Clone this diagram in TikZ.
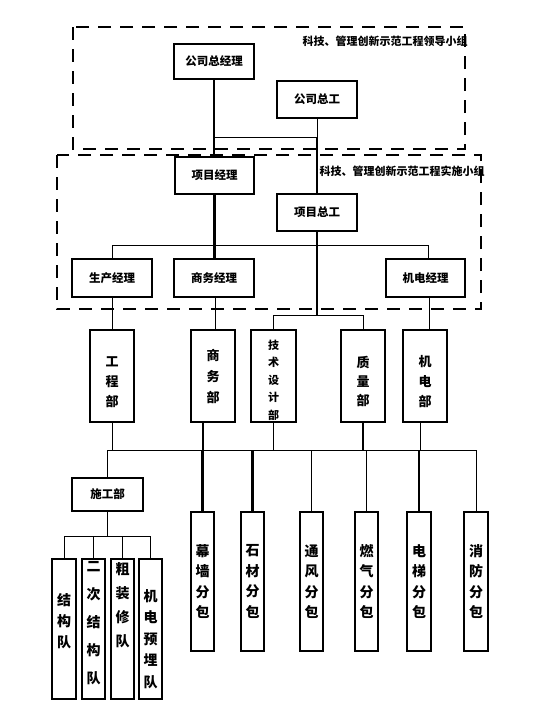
\documentclass[tikz,border=0pt]{standalone}
\usepackage{fontspec}
\setmainfont{Noto Sans CJK SC}
\begin{document}
\begin{tikzpicture}[x=1pt,y=-1pt,
  box/.style={draw, line width=1.3pt, inner sep=0pt, font=\bfseries\fontsize{11.5}{12}\selectfont},
  vbox/.style={draw, line width=1.3pt, inner sep=0pt, align=center, font=\bfseries\fontsize{14}{20.5}\selectfont},
  vtxt/.style={inner sep=0pt, align=center, font=\bfseries\fontsize{14}{#1}\selectfont},
  conn/.style={line width=1pt},
  heavy/.style={line width=2.6pt},
  frame/.style={line width=1.3pt, dash pattern=on 13pt off 9pt},
  grp/.style={font=\bfseries\fontsize{11}{12}\selectfont, inner sep=0pt}]
\useasboundingbox (0,0) rectangle (536,712);

% dashed group frames
\draw[frame] (73,27) rectangle (465,149);
\draw[frame] (57,155) rectangle (481,309);
\node[grp] (lg1) at (385,41) {科技、管理创新示范工程领导小组};
\node[grp] (lg2) at (402,171) {科技、管理创新示范工程实施小组};

% top level
\node[box, minimum width=80pt, minimum height=35pt] (gm) at (214,61.5) {公司总经理};
\node[box, minimum width=80pt, minimum height=37pt] (ce) at (317,99.5) {公司总工};
\node[box, minimum width=79pt, minimum height=37pt] (pm) at (214.5,175.5) {项目经理};
\node[box, minimum width=80pt, minimum height=37pt] (pce) at (317,212.5) {项目总工};

% managers
\node[box, minimum width=80pt, minimum height=38pt] (m1) at (112,278) {生产经理};
\node[box, minimum width=80pt, minimum height=38pt] (m2) at (214,278) {商务经理};
\node[box, minimum width=79pt, minimum height=38pt] (m3) at (425.5,278) {机电经理};

% departments
\node[vbox, minimum width=44pt, minimum height=92pt] (d1) at (112,376) {};
\node[vbox, minimum width=44pt, minimum height=92pt] (d2) at (213,376) {};
\node[vbox, minimum width=45pt, minimum height=92pt] (d3) at (273.5,376) {};
\node[vbox, minimum width=44pt, minimum height=92pt] (d4) at (363,376) {};
\node[vbox, minimum width=44pt, minimum height=92pt] (d5) at (425,376) {};
\node[vtxt=20, font=\bfseries\fontsize{13}{20}\selectfont] (d1t) at (112,382) {工\\程\\部};
\node[vtxt=21, font=\bfseries\fontsize{13}{21}\selectfont] (d2t) at (213,377) {商\\务\\部};
\node[vtxt=17.5, font=\bfseries\fontsize{11}{17.5}\selectfont] (d3t) at (273.5,380) {技\\术\\设\\计\\部};
\node[vtxt=19, font=\bfseries\fontsize{13}{19}\selectfont] (d4t) at (363,381) {质\\量\\部};
\node[vtxt=20, font=\bfseries\fontsize{13}{20}\selectfont] (d5t) at (425,382) {机\\电\\部};

% construction dept and teams
\node[box, minimum width=71pt, minimum height=33pt] (sg) at (107.5,494.5) {施工部};
\node[vbox, minimum width=24pt, minimum height=140pt] (t1) at (64,629) {};
\node[vbox, minimum width=23pt, minimum height=140pt] (t2) at (93.5,629) {};
\node[vbox, minimum width=23pt, minimum height=140pt] (t3) at (122.5,629) {};
\node[vbox, minimum width=23pt, minimum height=140pt] (t4) at (150.5,629) {};
\node[vtxt=21] (t1t) at (64,621) {结\\构\\队};
\node[vtxt=28] (t2t) at (93.5,623) {二\\次\\结\\构\\队};
\node[vtxt=24] (t3t) at (122.5,605) {粗\\装\\修\\队};
\node[vtxt=21.5] (t4t) at (150.5,639) {机\\电\\预\\埋\\队};

% subcontractors
\node[vbox, minimum width=23pt, minimum height=139pt] (s1) at (202.5,581.5) {幕\\墙\\分\\包};
\node[vbox, minimum width=23pt, minimum height=139pt] (s2) at (252.5,581.5) {石\\材\\分\\包};
\node[vbox, minimum width=23pt, minimum height=139pt] (s3) at (311.5,581.5) {通\\风\\分\\包};
\node[vbox, minimum width=23pt, minimum height=139pt] (s4) at (366.5,581.5) {燃\\气\\分\\包};
\node[vbox, minimum width=24pt, minimum height=139pt] (s5) at (419,581.5) {电\\梯\\分\\包};
\node[vbox, minimum width=24pt, minimum height=139pt] (s6) at (476,581.5) {消\\防\\分\\包};

% top connectors
\coordinate (ytop) at (0,137);
\draw[heavy] (gm.south) -- (gm.south |- pm.north);
\draw[conn] (gm.south |- ytop) -- (ce.south |- ytop);
\draw[conn] (ce.south) -- (ce.south |- ytop);
\draw[heavy] (ce.south |- ytop) -- (pce.north);

% project level
\coordinate (ymgr) at (0,245);
\draw[heavy] (pm.south) -- (pm.south |- m2.north);
\draw[conn] (m1.north) -- (m1.north |- ymgr) -- ([xshift=2.5pt]m3.north |- ymgr) -- ([xshift=2.5pt]m3.north);
\coordinate (ytech) at (0,315);
\draw[heavy] (pce.south) -- (pce.south |- ytech);
\draw[conn] (d3.north) -- (d3.north |- ytech) -- (d4.north |- ytech) -- (d4.north);
\draw[conn] (m1.south) -- (m1.south |- d1.north);
\draw[conn] ([xshift=1pt]m2.south) -- ([xshift=1pt]m2.south |- d2.north);
\draw[conn] ([xshift=3.5pt]m3.south) -- ([xshift=3.5pt]m3.south |- d5.north);

% department bus
\coordinate (ybus) at (0,450);
\draw[conn] (sg.north |- ybus) -- (s6.north |- ybus);
\draw[conn] (d1.south) -- (d1.south |- ybus);
\draw[heavy] ([xshift=-10pt]d2.south) -- ([xshift=-10pt]d2.south |- ybus);
\draw[conn] (d3.south) -- (d3.south |- ybus);
\draw[heavy] (d4.south) -- (d4.south |- ybus);
\draw[conn] ([xshift=-5pt]d5.south) -- ([xshift=-5pt]d5.south |- ybus);
\draw[conn] (sg.north) -- (sg.north |- ybus);
\draw[heavy] (s1.north) -- (s1.north |- ybus);
\draw[heavy] (s2.north) -- (s2.north |- ybus);
\draw[conn] (s3.north) -- (s3.north |- ybus);
\draw[conn] (s4.north) -- (s4.north |- ybus);
\draw[heavy] (s5.north) -- (s5.north |- ybus);
\draw[conn] (s6.north) -- (s6.north |- ybus);

% team bus
\coordinate (yteam) at (0,536);
\draw[conn] (sg.south) -- (sg.south |- yteam);
\draw[conn] (t1.north |- yteam) -- (t4.north |- yteam);
\foreach \t in {t1,t2,t3,t4} \draw[conn] (\t.north) -- (\t.north |- yteam);
\end{tikzpicture}
\end{document}
